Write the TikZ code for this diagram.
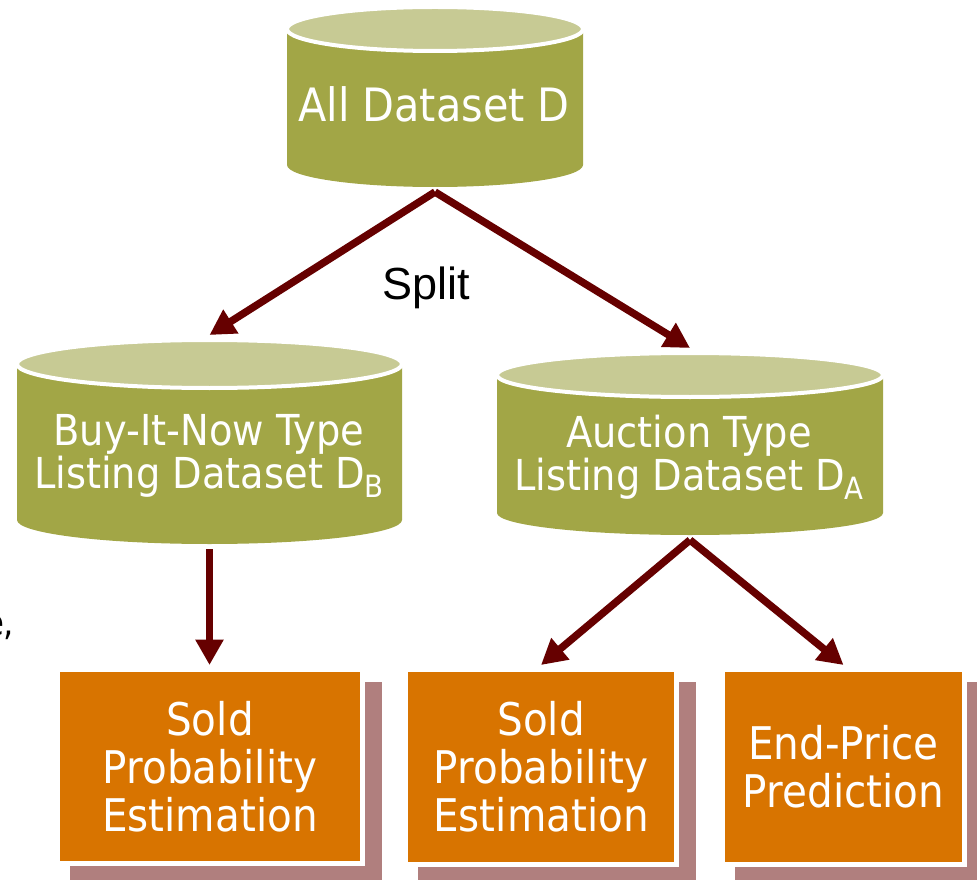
\documentclass[tikz,border=0pt]{standalone}
\usepackage{fontspec}
\usetikzlibrary{arrows.meta}
\newfontfamily\labelfont[FakeStretch=0.9]{DejaVu Sans}
\newfontfamily\splitfont{Liberation Sans}
\definecolor{cylbodycol}{RGB}{162,166,70}
\definecolor{cylcapcol}{RGB}{199,202,148}
\definecolor{taskcol}{RGB}{216,116,0}
\definecolor{shadowcol}{RGB}{176,127,126}
\definecolor{flowcol}{RGB}{102,0,0}

% lowered subscript letter in the label font
\newcommand\dsub[1]{\raisebox{-0.22em}{\fontsize{23}{23}\selectfont #1}}

\tikzset{
  cylframe/.style={inner sep=0pt, outer sep=3.75pt, draw=none},
  toptext/.style={text=white, font=\labelfont\fontsize{34.5}{40}\selectfont},
  cyltext/.style={text=white, align=center, font=\labelfont\fontsize{32}{32.25}\selectfont},
  taskstyle/.style={fill=taskcol, preaction={draw=white, line width=7.5pt},
    text=white, align=center, inner sep=0pt, outer sep=5.25pt,
    font=\labelfont\fontsize{33.75}{36}\selectfont},
  flow/.style={draw=flowcol, line width=5.6pt, -{Triangle[length=19pt,width=20pt]}},
}

% database cylinder: name, centre x, cap centre y, bottom centre y, x radius, y radius
\newcommand\dbcyl[6]{%
  \fill[cylbodycol] (#2-#5,-#3) -- (#2-#5,-#4)
    arc[start angle=180, end angle=360, x radius=#5, y radius=#6] -- (#2+#5,-#3) -- cycle;
  \filldraw[fill=cylcapcol, draw=white, line width=3pt] (#2,-#3) ellipse[x radius=#5, y radius=#6];
  \node[cylframe, minimum width={2*#5*0.75pt}, minimum height={(#4-#3+2*#6)*0.75pt}]
    (#1) at (#2,{-(#3+#4)/2}) {};
}

% task box with its offset shadow: name, x1, y1, x2, y2, text
\newcommand\taskbox[6]{%
  \fill[shadowcol] (#2+10,-#3-10) rectangle (#4+22,-#5-30);
  \node[taskstyle, minimum width={(#4-#2)*0.75pt}, minimum height={(#5-#3)*0.75pt}]
    (#1) at ({(#2+#4)/2},{-(#3+#5)/2}) {#6};
}

\begin{document}
\begin{tikzpicture}[x=0.75pt, y=0.75pt]
\useasboundingbox (0,0) rectangle (977,-880);
\clip (0,0) rectangle (977,-880);

% datasets
\dbcyl{all}{435}{29}{165}{148}{22}
\node[toptext, anchor=base] (allt) at (434,-122) {All Dataset D};

\dbcyl{buy}{209.5}{364}{520}{192.5}{24}
\node[cyltext] (buyt) at (209,-456) {Buy-It-Now Type\\Listing Dataset D\dsub{B}};

\dbcyl{auc}{690}{375}{513}{193}{22}
\node[cyltext] (auct) at (689,-457) {Auction Type\\Listing Dataset D\dsub{A}};

% tasks
\taskbox{b1}{60}{672}{360}{861}{Sold\\Probability\\Estimation}
\taskbox{b2}{408}{672}{674}{862}{Sold\\Probability\\Estimation}
\taskbox{b3}{725}{672}{962}{862}{End-Price\\Prediction}

% labels
\node[font=\splitfont\fontsize{33.75}{40}\selectfont, anchor=base] (split) at (426,-300) {Split};
\node[font=\labelfont\fontsize{27}{30}\selectfont, anchor=base east] (edge) at (19,-635) {e,};

% flow arrows
\draw[flow] (all.south) -- (buy.north);
\draw[flow] (all.south) -- (auc.north);
\draw[flow] (buy.south) -- (buy.south |- b1.north);
\draw[flow] (auc.south) -- (b2.north);
\draw[flow] (auc.south) -- (b3.north);
\end{tikzpicture}
\end{document}
